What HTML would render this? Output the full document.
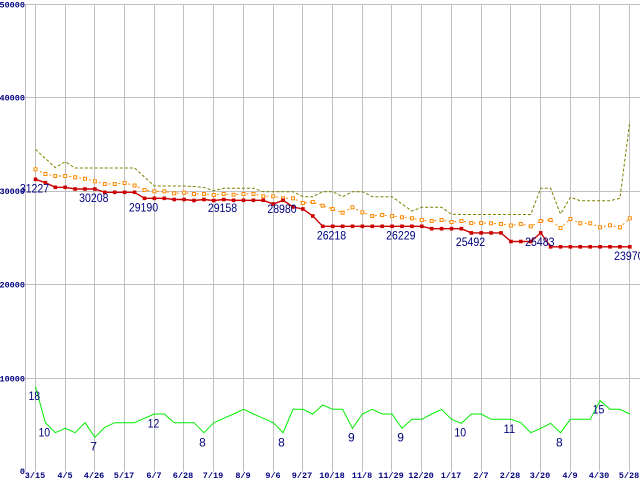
<!DOCTYPE html>
<html><head><meta charset="utf-8"><style>
html,body{margin:0;padding:0;background:#fff;}
svg{display:block;}
.ax{font-family:"Liberation Mono",monospace;font-weight:bold;font-size:8.5px;fill:#000080;}
.lb{font-family:"Liberation Sans",sans-serif;font-size:12px;fill:#000080;}
</style></head><body>
<svg width="640" height="480" viewBox="0 0 640 480" xmlns="http://www.w3.org/2000/svg">
<rect width="640" height="480" fill="#fff"/>
<g stroke="#c0c0c0" stroke-width="1" fill="none">
<path d="M25.5 4V471.5M35.5 4V471.5M65.5 4V471.5M94.5 4V471.5M124.5 4V471.5M154.5 4V471.5M183.5 4V471.5M213.5 4V471.5M243.5 4V471.5M273.5 4V471.5M302.5 4V471.5M332.5 4V471.5M362.5 4V471.5M391.5 4V471.5M421.5 4V471.5M451.5 4V471.5M481.5 4V471.5M510.5 4V471.5M540.5 4V471.5M570.5 4V471.5M599.5 4V471.5M629.5 4V471.5"/>
<path d="M25 4.5H640M25 97.5H640M25 191.5H640M25 284.5H640M25 378.5H640"/>
</g>
<g class="ax" text-anchor="end">
<text x="25" y="7.5">50000</text>
<text x="25" y="100.5">40000</text>
<text x="25" y="194">30000</text>
<text x="25" y="287.5">20000</text>
<text x="25" y="381.5">10000</text>
<text x="25" y="474">0</text>
</g>
<g class="ax" text-anchor="middle">
<text x="35" y="478">3/15</text><text x="65" y="478">4/5</text><text x="94" y="478">4/26</text><text x="124" y="478">5/17</text><text x="154" y="478">6/7</text><text x="183" y="478">6/28</text><text x="213" y="478">7/19</text><text x="243" y="478">8/9</text><text x="273" y="478">9/6</text><text x="302" y="478">9/27</text><text x="332" y="478">10/18</text><text x="362" y="478">11/8</text><text x="391" y="478">11/29</text><text x="421" y="478">12/20</text><text x="451" y="478">1/17</text><text x="481" y="478">2/7</text><text x="510" y="478">2/28</text><text x="540" y="478">3/20</text><text x="570" y="478">4/9</text><text x="599" y="478">4/30</text><text x="629" y="478">5/28</text>
</g>
<!-- olive dashed -->
<polyline fill="none" stroke="#808000" stroke-width="1" stroke-dasharray="3,2" points="35.5,149.3 45.4,158.5 55.3,167.7 65.2,161.7 75.1,168 85,168 94.9,168 104.8,168 114.7,168 124.6,168 134.6,168 144.5,177 154.4,186 164.3,186 174.2,186 184.1,186 194,186.5 203.9,187.5 213.8,190.7 223.7,188.3 233.6,188.3 243.5,188.3 253.4,188.3 263.3,191.7 273.2,191.7 283.1,191.7 293,191.7 302.9,196.7 312.8,196.7 322.7,191.7 332.7,191.7 342.6,196.7 352.5,191.7 362.4,191.7 372.3,196.7 382.2,196.7 392.1,196.7 402,204 411.9,211 421.8,207.3 431.7,207.3 441.6,207.3 451.5,214.3 461.4,214.5 471.3,214.5 481.2,214.5 491.1,214.5 501,214.5 510.9,214.5 520.8,214.5 530.8,214.5 540.7,188.3 550.6,188.3 560.5,214 570.4,197.3 580.3,200.7 590.2,200.7 600.1,200.7 610,200.7 619.9,198.3 629.8,121.7"/>
<!-- orange dotted -->
<polyline fill="none" stroke="#ff8800" stroke-width="1" stroke-dasharray="2,3" points="35.5,169.3 45.4,174 55.3,176 65.2,176 75.1,177.3 85,178.7 94.9,181.3 104.8,184 114.7,184 124.6,183 134.6,185.5 144.5,190 154.4,191.3 164.3,191.3 174.2,193.3 184.1,192.7 194,194 203.9,194 213.8,195 223.7,194 233.6,194.7 243.5,194 253.4,194 263.3,196.3 273.2,196.3 283.1,198.3 293,198.3 302.9,203 312.8,202 322.7,205.7 332.7,209 342.6,212.7 352.5,207.3 362.4,212.3 372.3,216 382.2,215 392.1,216 402,217.3 411.9,218.3 421.8,220 431.7,221 441.6,220 451.5,222 461.4,221 471.3,223 481.2,223 491.1,223.3 501,224 510.9,225.5 520.8,224 530.8,226.3 540.7,221 550.6,220 560.5,228 570.4,219 580.3,223.3 590.2,223.3 600.1,227.3 610,225.3 619.9,227.3 629.8,218.3"/>
<g fill="#fff" stroke="#ff8800" stroke-width="1">
<rect x="34" y="167.8" width="3" height="3"/><rect x="43.9" y="172.5" width="3" height="3"/><rect x="53.8" y="174.5" width="3" height="3"/><rect x="63.7" y="174.5" width="3" height="3"/><rect x="73.6" y="175.8" width="3" height="3"/><rect x="83.5" y="177.2" width="3" height="3"/><rect x="93.4" y="179.8" width="3" height="3"/><rect x="103.3" y="182.5" width="3" height="3"/><rect x="113.2" y="182.5" width="3" height="3"/><rect x="123.1" y="181.5" width="3" height="3"/><rect x="133.1" y="184" width="3" height="3"/><rect x="143" y="188.5" width="3" height="3"/><rect x="152.9" y="189.8" width="3" height="3"/><rect x="162.8" y="189.8" width="3" height="3"/><rect x="172.7" y="191.8" width="3" height="3"/><rect x="182.6" y="191.2" width="3" height="3"/><rect x="192.5" y="192.5" width="3" height="3"/><rect x="202.4" y="192.5" width="3" height="3"/><rect x="212.3" y="193.5" width="3" height="3"/><rect x="222.2" y="192.5" width="3" height="3"/><rect x="232.1" y="193.2" width="3" height="3"/><rect x="242" y="192.5" width="3" height="3"/><rect x="251.9" y="192.5" width="3" height="3"/><rect x="261.8" y="194.8" width="3" height="3"/><rect x="271.7" y="194.8" width="3" height="3"/><rect x="281.6" y="196.8" width="3" height="3"/><rect x="291.5" y="196.8" width="3" height="3"/><rect x="301.4" y="201.5" width="3" height="3"/><rect x="311.3" y="200.5" width="3" height="3"/><rect x="321.2" y="204.2" width="3" height="3"/><rect x="331.2" y="207.5" width="3" height="3"/><rect x="341.1" y="211.2" width="3" height="3"/><rect x="351" y="205.8" width="3" height="3"/><rect x="360.9" y="210.8" width="3" height="3"/><rect x="370.8" y="214.5" width="3" height="3"/><rect x="380.7" y="213.5" width="3" height="3"/><rect x="390.6" y="214.5" width="3" height="3"/><rect x="400.5" y="215.8" width="3" height="3"/><rect x="410.4" y="216.8" width="3" height="3"/><rect x="420.3" y="218.5" width="3" height="3"/><rect x="430.2" y="219.5" width="3" height="3"/><rect x="440.1" y="218.5" width="3" height="3"/><rect x="450" y="220.5" width="3" height="3"/><rect x="459.9" y="219.5" width="3" height="3"/><rect x="469.8" y="221.5" width="3" height="3"/><rect x="479.7" y="221.5" width="3" height="3"/><rect x="489.6" y="221.8" width="3" height="3"/><rect x="499.5" y="222.5" width="3" height="3"/><rect x="509.4" y="224" width="3" height="3"/><rect x="519.3" y="222.5" width="3" height="3"/><rect x="529.3" y="224.8" width="3" height="3"/><rect x="539.2" y="219.5" width="3" height="3"/><rect x="549.1" y="218.5" width="3" height="3"/><rect x="559" y="226.5" width="3" height="3"/><rect x="568.9" y="217.5" width="3" height="3"/><rect x="578.8" y="221.8" width="3" height="3"/><rect x="588.7" y="221.8" width="3" height="3"/><rect x="598.6" y="225.8" width="3" height="3"/><rect x="608.5" y="223.8" width="3" height="3"/><rect x="618.4" y="225.8" width="3" height="3"/><rect x="628.3" y="216.8" width="3" height="3"/>
</g>
<!-- red solid -->
<polyline fill="none" stroke="#cc0000" stroke-width="1.4" points="35.5,179.3 45.4,182.7 55.3,187.3 65.2,187.3 75.1,189 85,189 94.9,189 104.8,192.3 114.7,192.3 124.6,192.3 134.6,192.3 144.5,198.3 154.4,198.3 164.3,198.3 174.2,199.5 184.1,199.5 194,200.5 203.9,199.5 213.8,200.5 223.7,199.5 233.6,200.3 243.5,200.3 253.4,200.3 263.3,200.3 273.2,204 283.1,200.3 293,207 302.9,209 312.8,216 322.7,226.3 332.7,226.3 342.6,226.3 352.5,226.3 362.4,226.3 372.3,226.3 382.2,226.3 392.1,226.3 402,226.3 411.9,226.3 421.8,226.3 431.7,228.7 441.6,228.7 451.5,228.7 461.4,228.7 471.3,232.9 481.2,232.9 491.1,232.9 501,232.9 510.9,241.5 520.8,241.5 530.8,241.5 540.7,232.9 550.6,246.8 560.5,246.8 570.4,246.8 580.3,246.8 590.2,246.8 600.1,246.8 610,246.8 619.9,246.8 629.8,246.8"/>
<g fill="#cc0000">
<rect x="33.7" y="177.5" width="3.6" height="3.6"/><rect x="43.6" y="180.9" width="3.6" height="3.6"/><rect x="53.5" y="185.5" width="3.6" height="3.6"/><rect x="63.4" y="185.5" width="3.6" height="3.6"/><rect x="73.3" y="187.2" width="3.6" height="3.6"/><rect x="83.2" y="187.2" width="3.6" height="3.6"/><rect x="93.1" y="187.2" width="3.6" height="3.6"/><rect x="103" y="190.5" width="3.6" height="3.6"/><rect x="112.9" y="190.5" width="3.6" height="3.6"/><rect x="122.8" y="190.5" width="3.6" height="3.6"/><rect x="132.8" y="190.5" width="3.6" height="3.6"/><rect x="142.7" y="196.5" width="3.6" height="3.6"/><rect x="152.6" y="196.5" width="3.6" height="3.6"/><rect x="162.5" y="196.5" width="3.6" height="3.6"/><rect x="172.4" y="197.7" width="3.6" height="3.6"/><rect x="182.3" y="197.7" width="3.6" height="3.6"/><rect x="192.2" y="198.7" width="3.6" height="3.6"/><rect x="202.1" y="197.7" width="3.6" height="3.6"/><rect x="212" y="198.7" width="3.6" height="3.6"/><rect x="221.9" y="197.7" width="3.6" height="3.6"/><rect x="231.8" y="198.5" width="3.6" height="3.6"/><rect x="241.7" y="198.5" width="3.6" height="3.6"/><rect x="251.6" y="198.5" width="3.6" height="3.6"/><rect x="261.5" y="198.5" width="3.6" height="3.6"/><rect x="271.4" y="202.2" width="3.6" height="3.6"/><rect x="281.3" y="198.5" width="3.6" height="3.6"/><rect x="291.2" y="205.2" width="3.6" height="3.6"/><rect x="301.1" y="207.2" width="3.6" height="3.6"/><rect x="311" y="214.2" width="3.6" height="3.6"/><rect x="320.9" y="224.5" width="3.6" height="3.6"/><rect x="330.9" y="224.5" width="3.6" height="3.6"/><rect x="340.8" y="224.5" width="3.6" height="3.6"/><rect x="350.7" y="224.5" width="3.6" height="3.6"/><rect x="360.6" y="224.5" width="3.6" height="3.6"/><rect x="370.5" y="224.5" width="3.6" height="3.6"/><rect x="380.4" y="224.5" width="3.6" height="3.6"/><rect x="390.3" y="224.5" width="3.6" height="3.6"/><rect x="400.2" y="224.5" width="3.6" height="3.6"/><rect x="410.1" y="224.5" width="3.6" height="3.6"/><rect x="420" y="224.5" width="3.6" height="3.6"/><rect x="429.9" y="226.9" width="3.6" height="3.6"/><rect x="439.8" y="226.9" width="3.6" height="3.6"/><rect x="449.7" y="226.9" width="3.6" height="3.6"/><rect x="459.6" y="226.9" width="3.6" height="3.6"/><rect x="469.5" y="231.1" width="3.6" height="3.6"/><rect x="479.4" y="231.1" width="3.6" height="3.6"/><rect x="489.3" y="231.1" width="3.6" height="3.6"/><rect x="499.2" y="231.1" width="3.6" height="3.6"/><rect x="509.1" y="239.7" width="3.6" height="3.6"/><rect x="519" y="239.7" width="3.6" height="3.6"/><rect x="529" y="239.7" width="3.6" height="3.6"/><rect x="538.9" y="231.1" width="3.6" height="3.6"/><rect x="548.8" y="245" width="3.6" height="3.6"/><rect x="558.7" y="245" width="3.6" height="3.6"/><rect x="568.6" y="245" width="3.6" height="3.6"/><rect x="578.5" y="245" width="3.6" height="3.6"/><rect x="588.4" y="245" width="3.6" height="3.6"/><rect x="598.3" y="245" width="3.6" height="3.6"/><rect x="608.2" y="245" width="3.6" height="3.6"/><rect x="618.1" y="245" width="3.6" height="3.6"/><rect x="628" y="245" width="3.6" height="3.6"/>
</g>
<!-- green -->
<polyline fill="none" stroke="#00ee00" stroke-width="1" points="35.5,386.7 45.4,422.7 55.3,432.7 65.2,428.3 75.1,432.7 85,422.7 94.9,437.3 104.8,427.3 114.7,422.7 124.6,422.7 134.6,422.7 144.5,418.3 154.4,414 164.3,414 174.2,422.7 184.1,422.7 194,422.7 203.9,432.7 213.8,422.7 223.7,418.3 233.6,414 243.5,409.3 253.4,414 263.3,418.3 273.2,422.7 283.1,432.7 293,409.3 302.9,409.3 312.8,414 322.7,405 332.7,409.3 342.6,409.3 352.5,428.3 362.4,414 372.3,409.3 382.2,414 392.1,414 402,428.3 411.9,419.3 421.8,419.3 431.7,414 441.6,409.3 451.5,419.3 461.4,423.3 471.3,414 481.2,414 491.1,419.3 501,419.3 510.9,419.3 520.8,422.7 530.8,432.7 540.7,428.3 550.6,423.3 560.5,432.7 570.4,419.3 580.3,419.3 590.2,419.3 600.1,400.7 610,409.3 619.9,409.3 629.8,414"/>
<!-- data labels -->
<g class="lb" text-anchor="middle" lengthAdjust="spacingAndGlyphs">
<text x="34.5" y="192.6" textLength="29.3" lengthAdjust="spacingAndGlyphs">31227</text>
<text x="93.8" y="202.2" textLength="29.3" lengthAdjust="spacingAndGlyphs">30208</text>
<text x="143.5" y="211.3" textLength="29.3" lengthAdjust="spacingAndGlyphs">29190</text>
<text x="222.5" y="211.8" textLength="29.3" lengthAdjust="spacingAndGlyphs">29158</text>
<text x="282" y="213" textLength="29.3" lengthAdjust="spacingAndGlyphs">28980</text>
<text x="331.5" y="239.3" textLength="29.3" lengthAdjust="spacingAndGlyphs">26218</text>
<text x="400.8" y="239.3" textLength="29.3" lengthAdjust="spacingAndGlyphs">26229</text>
<text x="470.5" y="246" textLength="29.3" lengthAdjust="spacingAndGlyphs">25492</text>
<text x="539.8" y="245.8" textLength="29.3" lengthAdjust="spacingAndGlyphs">25483</text>
<text x="628.8" y="260" textLength="29.3" lengthAdjust="spacingAndGlyphs">23970</text>
<text x="34.3" y="400" textLength="11.7" lengthAdjust="spacingAndGlyphs">18</text>
<text x="44.3" y="436.7" textLength="11.7" lengthAdjust="spacingAndGlyphs">10</text>
<text x="93.6" y="450.7">7</text>
<text x="153.5" y="427.6" textLength="11.7" lengthAdjust="spacingAndGlyphs">12</text>
<text x="202.5" y="446.5">8</text>
<text x="281.5" y="446.5">8</text>
<text x="351.3" y="441.7">9</text>
<text x="400.6" y="441.7">9</text>
<text x="460.2" y="436.7" textLength="11.7" lengthAdjust="spacingAndGlyphs">10</text>
<text x="509.3" y="433.2" textLength="11.7" lengthAdjust="spacingAndGlyphs">11</text>
<text x="559.3" y="446.6">8</text>
<text x="598.5" y="413.5" textLength="11.7" lengthAdjust="spacingAndGlyphs">15</text>
</g>
</svg>
</body></html>
